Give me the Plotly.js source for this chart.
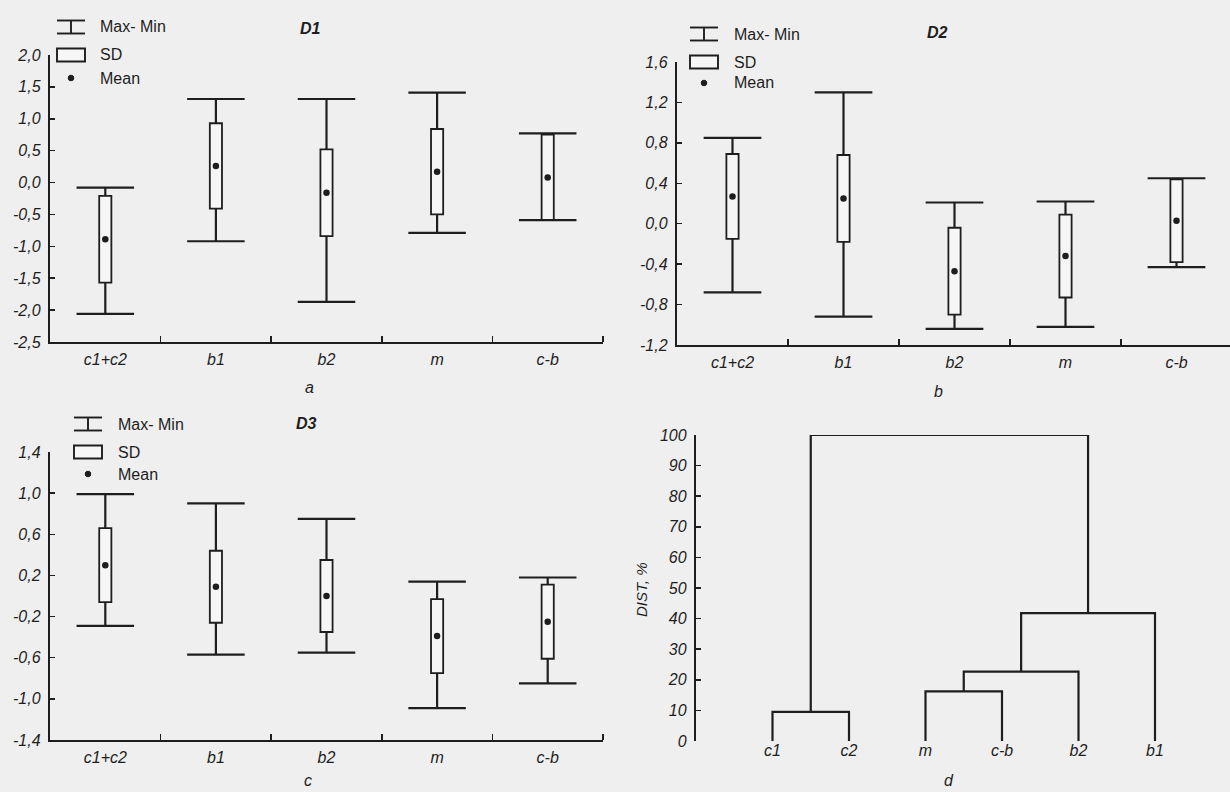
<!DOCTYPE html>
<html><head><meta charset="utf-8">
<script src="https://cdn.plot.ly/plotly-3.0.1.min.js"></script>
<style>html,body{margin:0;padding:0;background:#efefef;}#chart{width:1230px;height:792px;}</style>
</head><body><div id="chart"></div>
<script>
// ---------------- data ----------------
const groups = ['c1+c2', 'b1', 'b2', 'm', 'c-b'];

const d1Mean = [-0.89, 0.26, -0.16, 0.17, 0.08];
const d1SD   = [0.68, 0.67, 0.68, 0.67, 0.67];
const d1Min  = [-2.06, -0.92, -1.87, -0.79, -0.59];
const d1Max  = [-0.08, 1.31, 1.31, 1.41, 0.77];

const d2Mean = [0.27, 0.25, -0.47, -0.32, 0.03];
const d2SD   = [0.42, 0.43, 0.43, 0.41, 0.41];
const d2Min  = [-0.68, -0.92, -1.04, -1.02, -0.43];
const d2Max  = [0.85, 1.30, 0.21, 0.22, 0.45];

const d3Mean = [0.30, 0.09, 0.00, -0.39, -0.25];
const d3SD   = [0.36, 0.35, 0.35, 0.36, 0.36];
const d3Min  = [-0.29, -0.57, -0.55, -1.09, -0.85];
const d3Max  = [0.99, 0.90, 0.75, 0.14, 0.18];

const d1TickVals = [-2.5, -2, -1.5, -1, -0.5, 0, 0.5, 1, 1.5, 2];
const d1TickText = ['-2,5', '-2,0', '-1,5', '-1,0', '-0,5', '0,0', '0,5', '1,0', '1,5', '2,0'];
const d2TickVals = [-1.2, -0.8, -0.4, 0, 0.4, 0.8, 1.2, 1.6];
const d2TickText = ['-1,2', '-0,8', '-0,4', '0,0', '0,4', '0,8', '1,2', '1,6'];
const d3TickVals = [-1.4, -1.0, -0.6, -0.2, 0.2, 0.6, 1.0, 1.4];
const d3TickText = ['-1,4', '-1,0', '-0,6', '-0,2', '0,2', '0,6', '1,0', '1,4'];

// dendrogram (panel d): leaves, then merges (children: leaf index 0-5 or merge index 6+)
const leaves     = ['c1', 'c2', 'm', 'c-b', 'b2', 'b1'];
const linkLeft   = [0, 2, 7, 8, 6];
const linkRight  = [1, 3, 4, 5, 9];
const linkHeight = [9.5, 16.2, 22.7, 41.8, 100];
const distTickVals = [0, 10, 20, 30, 40, 50, 60, 70, 80, 90, 100];
const distTickText = ['0', '10', '20', '30', '40', '50', '60', '70', '80', '90', '100'];

// ---------------- helpers ----------------
const W = 1230, H = 792;
const px = x => x / W, py = y => 1 - y / H;
const INK = '#1e1e1e';
const FONT = 'Liberation Sans, Arial, sans-serif';
const tickFont = {family: FONT, size: 16, style: 'italic', color: INK};
const idx = groups.map((g, i) => i);

function boxTraces(mean, sd, mn, mx, xa, ya) {
  const cap = 0.26;
  const wx = [], wy = [];
  idx.forEach(i => {
    const top = mean[i] + sd[i], bot = mean[i] - sd[i];
    wx.push(i, i, null, i, i, null, i - cap, i + cap, null, i - cap, i + cap, null);
    wy.push(top, mx[i], null, bot, mn[i], null, mx[i], mx[i], null, mn[i], mn[i], null);
  });
  return [
    {type: 'bar', x: idx, y: sd.map(s => 2 * s), base: mean.map((m, i) => m - sd[i]),
     width: 0.11, marker: {color: '#f6f6f6', line: {color: INK, width: 1.8}},
     xaxis: xa, yaxis: ya, showlegend: false, hoverinfo: 'skip'},
    {type: 'scatter', mode: 'lines', x: wx, y: wy, line: {color: INK, width: 2.2},
     xaxis: xa, yaxis: ya, showlegend: false, hoverinfo: 'skip'},
    {type: 'scatter', mode: 'markers', x: idx, y: mean, marker: {color: INK, size: 6.5},
     xaxis: xa, yaxis: ya, showlegend: false, hoverinfo: 'skip'}
  ];
}

function dendroTrace() {
  const pos = leaves.map((l, i) => i + 1);
  const ht = leaves.map(() => 0);
  const xs = [], ys = [];
  linkHeight.forEach((h, k) => {
    const l = linkLeft[k], r = linkRight[k];
    xs.push(pos[l], pos[l], pos[r], pos[r], null);
    ys.push(ht[l], h, h, ht[r], null);
    pos.push((pos[l] + pos[r]) / 2);
    ht.push(h);
  });
  return {type: 'scatter', mode: 'lines', x: xs, y: ys, line: {color: INK, width: 2.2},
          xaxis: 'x4', yaxis: 'y4', showlegend: false, hoverinfo: 'skip', cliponaxis: false};
}

function xCat(domain, range) {
  return {domain: domain, range: range, showgrid: false, zeroline: false,
    showline: true, linecolor: INK, linewidth: 2.2,
    tickmode: 'array', tickvals: idx, ticktext: groups, ticks: '', tickfont: tickFont,
    ticklabelstandoff: 2,
    minor: {tickmode: 'array', tickvals: [0.5, 1.5, 2.5, 3.5, 4.5], ticks: 'inside',
            ticklen: 6, tickwidth: 1.5, tickcolor: INK, showgrid: false}};
}
function yNum(domain, range, vals, text) {
  return {domain: domain, range: range, showgrid: false, zeroline: false,
    showline: true, linecolor: INK, linewidth: 2.2,
    tickmode: 'array', tickvals: vals, ticktext: text, ticks: 'inside', ticklen: 5,
    tickwidth: 1.5, tickcolor: INK, tickfont: tickFont, ticklabelstandoff: 4};
}

const shapes = [], annotations = [];
function legendBlock(x0, y1, y2, y3, tx) {
  const w = 28, c = x0 + w / 2;
  const ln = (xa, ya, xb, yb) => shapes.push({type: 'line', xref: 'paper', yref: 'paper',
    x0: px(xa), y0: py(ya), x1: px(xb), y1: py(yb), line: {color: INK, width: 1.9}});
  ln(x0, y1 - 6.5, x0 + w, y1 - 6.5);
  ln(x0, y1 + 6.5, x0 + w, y1 + 6.5);
  ln(c, y1 - 6.5, c, y1 + 6.5);
  shapes.push({type: 'rect', xref: 'paper', yref: 'paper', x0: px(x0), x1: px(x0 + w),
    y0: py(y2 + 6.5), y1: py(y2 - 6.5), line: {color: INK, width: 1.9}, fillcolor: '#f6f6f6'});
  shapes.push({type: 'circle', xref: 'paper', yref: 'paper', x0: px(c - 2.8), x1: px(c + 2.8),
    y0: py(y3 + 2.8), y1: py(y3 - 2.8), line: {color: INK, width: 1}, fillcolor: INK});
  [['Max- Min', y1], ['SD', y2], ['Mean', y3]].forEach(([t, y]) => annotations.push({
    xref: 'paper', yref: 'paper', x: px(tx), y: py(y), text: t, showarrow: false,
    xanchor: 'left', yanchor: 'middle', font: {family: FONT, size: 16, color: INK}}));
}
function label(t, x, y, bold, size) {
  annotations.push({xref: 'paper', yref: 'paper', x: px(x), y: py(y), text: t, showarrow: false,
    xanchor: 'center', yanchor: 'middle',
    font: {family: FONT, size: size || 16, style: 'italic', weight: bold ? 700 : 400, color: INK}});
}

legendBlock(57, 27, 55, 78, 98);
legendBlock(690, 34, 62, 83, 732);
legendBlock(74, 424, 452, 474, 116);
label('D1', 310, 28, true);
label('D2', 937, 33, true);
label('D3', 306, 423, true);
label('a', 309, 388);
label('b', 938, 391);
label('c', 308, 780);
label('d', 949, 780);
annotations.push({xref: 'paper', yref: 'paper', x: px(641), y: py(590), text: 'DIST, %',
  textangle: -90, showarrow: false, xanchor: 'center', yanchor: 'middle',
  font: {family: FONT, size: 15, style: 'italic', color: INK}});

const data = [].concat(
  boxTraces(d1Mean, d1SD, d1Min, d1Max, 'x', 'y'),
  boxTraces(d2Mean, d2SD, d2Min, d2Max, 'x2', 'y2'),
  boxTraces(d3Mean, d3SD, d3Min, d3Max, 'x3', 'y3'),
  [dendroTrace()]
);

const layout = {
  width: W, height: H, margin: {l: 0, r: 0, t: 0, b: 0},
  paper_bgcolor: '#efefef', plot_bgcolor: 'rgba(0,0,0,0)',
  showlegend: false, hovermode: false, barmode: 'overlay',
  xaxis:  xCat([px(50), px(603)], [-0.5, 4.5]),
  yaxis:  yNum([py(342), py(55)], [-2.5, 2.0], d1TickVals, d1TickText),
  xaxis2: xCat([px(677), 1], [-0.5, -0.5 + (1230 - 677) / 111]),
  yaxis2: yNum([py(345), py(62)], [-1.2, 1.6], d2TickVals, d2TickText),
  xaxis3: xCat([px(50), px(603)], [-0.5, 4.5]),
  yaxis3: yNum([py(740), py(452)], [-1.4, 1.4], d3TickVals, d3TickText),
  xaxis4: {domain: [px(696), 1], range: [0, (1230 - 696) / 76.5], showgrid: false, zeroline: false,
           showline: false, tickmode: 'array', tickvals: leaves.map((l, i) => i + 1), ticktext: leaves,
           ticks: '', tickfont: tickFont, ticklabelstandoff: -2},
  yaxis4: yNum([py(741), py(435)], [0, 100], distTickVals, distTickText),
  shapes: shapes, annotations: annotations
};
layout.yaxis2.anchor = 'x2'; layout.xaxis2.anchor = 'y2';
layout.yaxis3.anchor = 'x3'; layout.xaxis3.anchor = 'y3';
layout.yaxis4.anchor = 'x4'; layout.xaxis4.anchor = 'y4';

Plotly.newPlot('chart', data, layout, {staticPlot: true, displayModeBar: false});
</script>
</body></html>
